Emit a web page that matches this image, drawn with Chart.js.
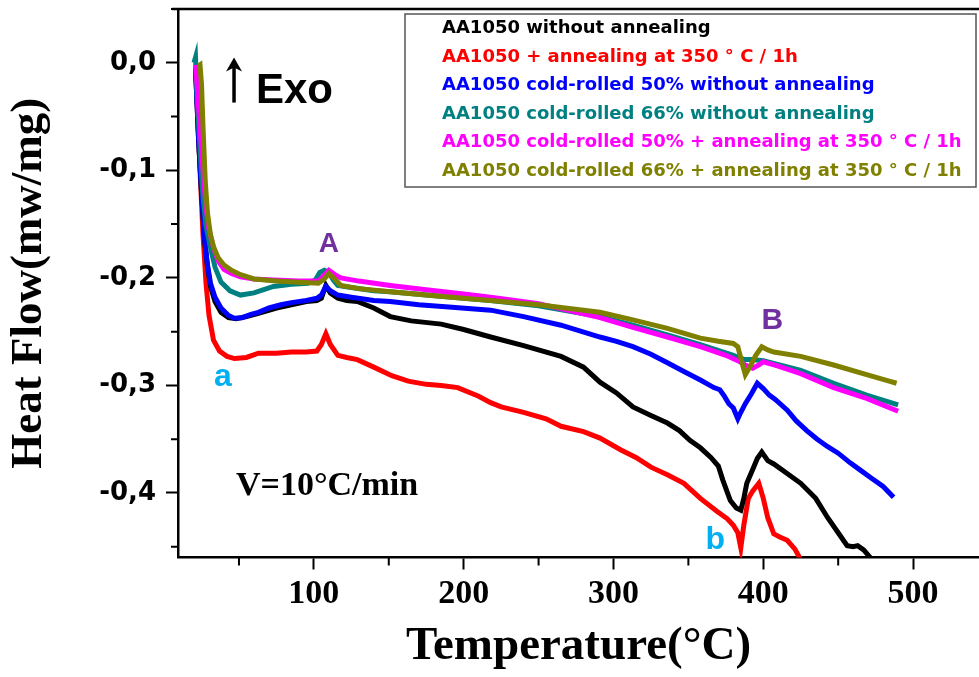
<!DOCTYPE html>
<html>
<head>
<meta charset="utf-8">
<script src="https://cdn.jsdelivr.net/npm/chart.js@4.4.1/dist/chart.umd.min.js"></script>
<style>
  html, body { margin: 0; padding: 0; background: #fff; overflow: hidden; }
</style>
</head>
<body>
<canvas id="dsc" width="979" height="677"></canvas>
<script>
// DSC curves, heat flow (mW/mg) vs temperature (deg C)
var seriesNames = [
  "AA1050 without annealing",
  "AA1050 + annealing at 350 \u00b0 C / 1h",
  "AA1050 cold-rolled 50% without annealing",
  "AA1050 cold-rolled 66% without annealing",
  "AA1050 cold-rolled 50% + annealing at 350 \u00b0 C / 1h",
  "AA1050 cold-rolled 66% + annealing at 350 \u00b0 C / 1h"
];
var seriesColors = ["#000000", "#ff0000", "#0000ff", "#008080", "#ff00ff", "#808000"];

var tBlack = [21, 23, 25, 27, 29, 31, 34, 38, 43, 48, 55, 63, 75, 85, 95, 102, 105, 108, 111, 116, 122, 129, 140, 151, 165, 185, 200, 218, 240, 265, 280, 291, 302, 313, 325, 336, 344, 351, 358, 365, 370, 373, 378, 382, 385, 387, 389, 393, 396, 399, 403, 407, 415, 425, 435, 443, 450, 456, 460, 463, 467, 472];
var hBlack = [-0.005, -0.07, -0.12, -0.165, -0.19, -0.208, -0.222, -0.232, -0.237, -0.238, -0.236, -0.233, -0.228, -0.225, -0.222, -0.221, -0.219, -0.207, -0.214, -0.219, -0.221, -0.222, -0.228, -0.236, -0.240, -0.243, -0.248, -0.255, -0.263, -0.273, -0.283, -0.297, -0.307, -0.320, -0.328, -0.335, -0.342, -0.351, -0.358, -0.367, -0.375, -0.388, -0.407, -0.414, -0.416, -0.405, -0.391, -0.378, -0.368, -0.362, -0.370, -0.373, -0.381, -0.391, -0.405, -0.423, -0.437, -0.449, -0.450, -0.449, -0.453, -0.461];

var tRed = [21, 22.5, 24, 26, 28, 30, 33, 37, 42, 47, 55, 63, 75, 85, 95, 102, 105, 108, 111, 116, 122, 129, 140, 152, 163, 175, 185, 196, 210, 218, 225, 240, 255, 265, 280, 291, 305, 315, 325, 336, 347, 358, 369, 376, 380, 383, 385, 387, 390, 393, 397, 400, 403, 407, 411, 416, 421, 425];
var hRed = [-0.005, -0.05, -0.10, -0.16, -0.205, -0.235, -0.258, -0.268, -0.273, -0.275, -0.274, -0.270, -0.270, -0.269, -0.269, -0.268, -0.262, -0.252, -0.262, -0.272, -0.274, -0.276, -0.283, -0.291, -0.296, -0.299, -0.300, -0.302, -0.310, -0.316, -0.320, -0.325, -0.331, -0.338, -0.343, -0.349, -0.360, -0.367, -0.376, -0.383, -0.391, -0.405, -0.417, -0.424, -0.430, -0.437, -0.451, -0.430, -0.405, -0.398, -0.391, -0.405, -0.423, -0.438, -0.441, -0.444, -0.452, -0.462];

var tBlue50 = [21, 23, 25, 27, 29, 31, 34, 38, 43, 47, 52, 58, 63, 70, 78, 85, 95, 102, 105, 108, 111, 116, 125, 140, 151, 170, 190, 218, 240, 265, 291, 302, 313, 325, 336, 347, 358, 367, 371, 374, 377, 380, 383, 385, 388, 392, 396, 400, 404, 408, 416, 422, 429, 436, 443, 450, 458, 465, 472, 480, 487];
var hBlue50 = [-0.005, -0.07, -0.12, -0.163, -0.188, -0.205, -0.218, -0.228, -0.235, -0.2375, -0.237, -0.234, -0.232, -0.228, -0.225, -0.223, -0.221, -0.219, -0.216, -0.208, -0.212, -0.216, -0.218, -0.221, -0.222, -0.225, -0.227, -0.230, -0.236, -0.244, -0.255, -0.259, -0.264, -0.271, -0.279, -0.287, -0.295, -0.302, -0.304, -0.310, -0.317, -0.321, -0.331, -0.325, -0.317, -0.308, -0.298, -0.303, -0.309, -0.313, -0.323, -0.333, -0.342, -0.350, -0.357, -0.363, -0.372, -0.379, -0.386, -0.394, -0.404];

var tTeal66 = [20, 21, 22, 24, 26, 28, 31, 34, 38, 44, 51, 60, 73, 85, 96, 101, 104, 107, 110, 113, 116, 125, 140, 151, 175, 200, 218, 250, 291, 313, 336, 358, 380, 385, 388, 392, 400, 425, 447, 469, 490];
var hTeal66 = [0.0, 0.005, -0.03, -0.08, -0.125, -0.152, -0.172, -0.190, -0.204, -0.212, -0.216, -0.214, -0.208, -0.206, -0.205, -0.202, -0.195, -0.193, -0.195, -0.202, -0.207, -0.209, -0.212, -0.213, -0.216, -0.219, -0.221, -0.226, -0.236, -0.244, -0.253, -0.262, -0.272, -0.275, -0.276, -0.276, -0.277, -0.286, -0.298, -0.309, -0.318];

var tPink50a = [21, 22, 24, 26, 28, 30, 33, 36, 40, 45, 51, 60, 73, 90, 103, 106, 110, 114, 118, 130, 151, 175, 200, 218, 250, 291, 313, 336, 358, 375, 383, 388, 393, 397, 400, 410, 425, 447, 469, 490];
var hPink50a = [-0.002, -0.02, -0.06, -0.10, -0.135, -0.155, -0.172, -0.184, -0.192, -0.196, -0.199, -0.201, -0.202, -0.203, -0.203, -0.199, -0.193, -0.197, -0.200, -0.203, -0.207, -0.211, -0.215, -0.218, -0.224, -0.237, -0.246, -0.255, -0.264, -0.272, -0.277, -0.281, -0.284, -0.281, -0.278, -0.282, -0.289, -0.302, -0.312, -0.324];

var tOlive66a = [23, 24, 25, 26, 27.5, 29, 31, 33, 36, 40, 45, 51, 60, 75, 90, 103, 107, 110, 114, 118, 130, 151, 175, 200, 218, 250, 291, 313, 336, 358, 370, 380, 383, 386, 388, 391, 395, 399, 403, 407, 425, 447, 469, 484, 489];
var hOlive66a = [-0.003, -0.002, -0.02, -0.06, -0.11, -0.14, -0.16, -0.171, -0.181, -0.188, -0.193, -0.197, -0.201, -0.203, -0.204, -0.205, -0.201, -0.196, -0.201, -0.207, -0.210, -0.213, -0.216, -0.219, -0.221, -0.225, -0.232, -0.239, -0.247, -0.256, -0.259, -0.261, -0.264, -0.280, -0.290, -0.283, -0.272, -0.264, -0.267, -0.269, -0.273, -0.281, -0.290, -0.296, -0.298];

var xTicks = [100, 200, 300, 400, 500];
var xMinorTicks = [50, 150, 250, 350, 450];
var yTicks = [-0.4, -0.3, -0.2, -0.1, 0.0];
var yMinorTicks = [-0.45, -0.35, -0.25, -0.15, -0.05, 0.05];

function pts(t, h) {
  return t.map(function (x, i) { return { x: x, y: h[i] }; });
}

var allT = [tBlack, tRed, tBlue50, tTeal66, tPink50a, tOlive66a];
var allH = [hBlack, hRed, hBlue50, hTeal66, hPink50a, hOlive66a];
var drawOrder = [4, 5, 3, 2, 1, 0]; // olive on top, red underneath

var datasets = seriesNames.map(function (name, i) {
  return {
    label: name,
    data: pts(allT[i], allH[i]),
    borderColor: seriesColors[i],
    backgroundColor: seriesColors[i],
    borderWidth: 5,
    pointRadius: 0,
    fill: false,
    clip: 0,
    order: drawOrder[i]
  };
});

// extra drawing: frame top, minor ticks, text notes, legend box
var extras = {
  id: "extras",
  afterDraw: function (chart) {
    var ctx = chart.ctx, a = chart.chartArea;
    var xs = chart.scales.x, ys = chart.scales.y;
    ctx.save();
    ctx.strokeStyle = "#000";
    ctx.lineWidth = 2.5;
    ctx.beginPath();
    ctx.moveTo(a.left - 6, a.top);
    ctx.lineTo(a.right, a.top);
    ctx.stroke();

    ctx.lineWidth = 2;
    ctx.beginPath();
    yMinorTicks.forEach(function (v) {
      var py = ys.getPixelForValue(v);
      ctx.moveTo(a.left - 7, py);
      ctx.lineTo(a.left, py);
    });
    xMinorTicks.forEach(function (v) {
      var px = xs.getPixelForValue(v);
      ctx.moveTo(px, a.bottom);
      ctx.lineTo(px, a.bottom + 8);
    });
    ctx.stroke();

    // up arrow next to "Exo"
    var ax = xs.getPixelForValue(46.7);
    var aTop = ys.getPixelForValue(0.005), aBot = ys.getPixelForValue(-0.037);
    ctx.lineWidth = 3.5;
    ctx.beginPath();
    ctx.moveTo(ax, aBot);
    ctx.lineTo(ax, aTop + 8);
    ctx.stroke();
    ctx.fillStyle = "#000";
    ctx.beginPath();
    ctx.moveTo(ax, aTop);
    ctx.lineTo(ax - 8, aTop + 14);
    ctx.lineTo(ax, aTop + 10);
    ctx.lineTo(ax + 8, aTop + 14);
    ctx.closePath();
    ctx.fill();

    function note(text, x, y, color, font, align, base) {
      ctx.fillStyle = color;
      ctx.font = font;
      ctx.textAlign = align;
      ctx.textBaseline = base;
      ctx.fillText(text, xs.getPixelForValue(x), ys.getPixelForValue(y));
    }
    note("Exo", 61.3, -0.037, "#000", "bold 42px 'Liberation Sans'", "left", "alphabetic");
    note("A", 110, -0.169, "#7030a0", "bold 28px 'Liberation Sans'", "center", "middle");
    note("B", 406, -0.240, "#7030a0", "bold 30px 'Liberation Sans'", "center", "middle");
    note("a", 39.3, -0.2925, "#00b0f0", "bold 32px 'Liberation Sans'", "center", "middle");
    note("b", 368, -0.444, "#00b0f0", "bold 32px 'Liberation Sans'", "center", "middle");
    note("V=10\u00b0C/min", 48, -0.402, "#000", "bold 34px 'Liberation Serif'", "left", "alphabetic");

    // legend box
    var bx = 405, by = 14, bw = 571, bh = 173;
    ctx.fillStyle = "#fff";
    ctx.fillRect(bx, by, bw, bh);
    ctx.strokeStyle = "#555";
    ctx.lineWidth = 1.5;
    ctx.strokeRect(bx, by, bw, bh);
    ctx.font = "bold 18px 'DejaVu Sans'";
    ctx.textAlign = "left";
    ctx.textBaseline = "alphabetic";
    seriesNames.forEach(function (name, i) {
      ctx.fillStyle = seriesColors[i];
      ctx.fillText(name, 442, 33 + i * 28.5);
    });
    ctx.restore();
  }
};

new Chart(document.getElementById("dsc"), {
  type: "line",
  data: { datasets: datasets },
  options: {
    responsive: false,
    animation: false,
    events: [],
    layout: { padding: { top: 9, right: 0, bottom: 0, left: 0 } },
    plugins: { legend: { display: false }, tooltip: { enabled: false } },
    scales: {
      x: {
        type: "linear",
        min: 9.3,
        max: 544,
        afterBuildTicks: function (s) { s.ticks = xTicks.map(function (v) { return { value: v }; }); },
        afterFit: function (s) { s.height = 119.5; s.paddingLeft = 0; s.paddingRight = 0; },
        border: { display: true, color: "#000", width: 2.5 },
        grid: { display: true, drawOnChartArea: false, drawTicks: true, tickLength: 12, tickColor: "#000", tickWidth: 2 },
        ticks: {
          color: "#000",
          padding: 4,
          maxRotation: 0,
          font: { family: "'Liberation Serif'", size: 34, weight: "bold" }
        },
        title: {
          display: true,
          text: "Temperature(\u00b0C)",
          color: "#000",
          padding: { top: 0, bottom: 2 },
          font: { family: "'Liberation Serif'", size: 47, weight: "bold" }
        }
      },
      y: {
        min: -0.46,
        max: 0.05,
        afterBuildTicks: function (s) { s.ticks = yTicks.map(function (v) { return { value: v }; }); },
        afterFit: function (s) { s.width = 178; s.paddingTop = 0; s.paddingBottom = 0; },
        border: { display: true, color: "#000", width: 2.5 },
        grid: { display: true, drawOnChartArea: false, drawTicks: true, tickLength: 12, tickColor: "#000", tickWidth: 2 },
        ticks: {
          color: "#000",
          padding: 10,
          font: { family: "'DejaVu Sans'", size: 26, weight: "bold" },
          callback: function (v) { return v.toFixed(1).replace(".", ","); }
        },
        title: {
          display: true,
          text: "Heat Flow(mw/mg)",
          color: "#000",
          padding: { top: 2, bottom: 0 },
          font: { family: "'Liberation Serif'", size: 45, weight: "bold" }
        }
      }
    }
  },
  plugins: [extras]
});
</script>
</body>
</html>
